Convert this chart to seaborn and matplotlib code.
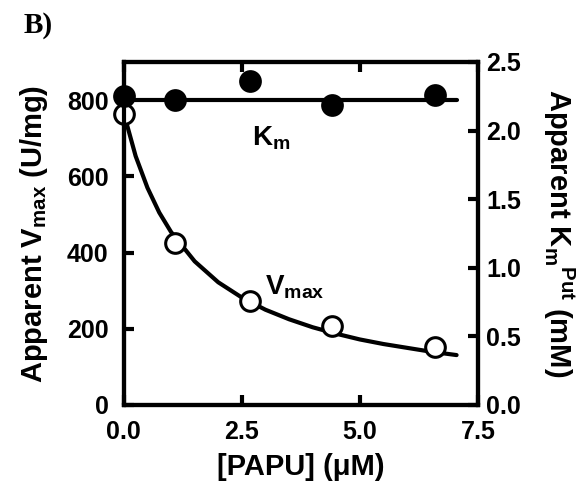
import numpy as np
import pandas as pd
import matplotlib
matplotlib.use("Agg")
import matplotlib.pyplot as plt
import seaborn as sns

papu = [0.0, 1.08, 2.67, 4.4, 6.6]
vmax = [763, 425, 273, 207, 152]
km = [2.25, 2.22, 2.36, 2.19, 2.26]

# fitted curves
fit_x = [0.0, 0.25, 0.5, 0.75, 1.0, 1.5, 2.0, 2.5, 3.0, 3.5, 4.0, 4.5, 5.0, 5.5, 6.0, 6.5, 7.05]
fit_v = [765, 653, 570, 505, 454, 377, 322, 282, 250, 225, 204, 187, 172, 160, 150, 140, 131]
km_line_x = [0.0, 7.05]
km_line_y = [2.22, 2.22]

sns.set_style("ticks")
plt.rcParams['font.family'] = ['Liberation Sans', 'DejaVu Sans']
plt.rcParams['font.weight'] = 'bold'
plt.rcParams['mathtext.fontset'] = 'custom'
plt.rcParams['mathtext.rm'] = 'Liberation Sans:bold'
plt.rcParams['mathtext.bf'] = 'Liberation Sans:bold'
plt.rcParams['mathtext.it'] = 'Liberation Sans:bold'
for k in ['text.color', 'axes.edgecolor', 'axes.labelcolor', 'xtick.color', 'ytick.color']:
    plt.rcParams[k] = 'black'

fig = plt.figure(figsize=(5.87, 5.0), dpi=100)
ax = fig.add_axes([0.211, 0.19, 0.603, 0.686])
ax2 = ax.twinx()

vdf = pd.DataFrame({'x': papu, 'y': vmax})
fdf = pd.DataFrame({'x': fit_x, 'y': fit_v})
kdf = pd.DataFrame({'x': papu, 'y': km})
kl = pd.DataFrame({'x': km_line_x, 'y': km_line_y})

sns.lineplot(data=fdf, x='x', y='y', ax=ax, color='black', lw=3, zorder=2)
sns.scatterplot(data=vdf, x='x', y='y', ax=ax, s=200, facecolor='white',
                edgecolor='black', linewidth=2.2, zorder=3, clip_on=False)
sns.lineplot(data=kl, x='x', y='y', ax=ax2, color='black', lw=3, zorder=2)
sns.scatterplot(data=kdf, x='x', y='y', ax=ax2, s=230, color='black',
                edgecolor='black', zorder=3, clip_on=False)

ax.set_xlim(0, 7.5)
ax.set_ylim(0, 900)
ax2.set_ylim(0, 2.5)
ax.set_xticks([0, 2.5, 5.0, 7.5])
ax.set_xticklabels(['0.0', '2.5', '5.0', '7.5'])
ax.set_yticks([0, 200, 400, 600, 800])
ax2.set_yticks([0, 0.5, 1.0, 1.5, 2.0, 2.5])
ax2.set_yticklabels(['0.0', '0.5', '1.0', '1.5', '2.0', '2.5'])

for a in (ax, ax2):
    for s in a.spines.values():
        s.set_visible(True)
        s.set_linewidth(3)
    a.tick_params(direction='in', length=7, width=3, labelsize=18, pad=6)
ax.tick_params(top=True, right=False)
ax.tick_params(axis='x', pad=11)
ax.tick_params(axis='y', pad=11)
ax2.tick_params(left=False)

ax.set_xlabel('[PAPU] (μM)', fontsize=21, fontweight='bold', labelpad=6)
ax.set_ylabel(r'Apparent V$_{\mathbf{max}}$ (U/mg)', fontsize=21, fontweight='bold', labelpad=12)
ax2.set_ylabel(r'Apparent K$_{\mathbf{m}}{}^{\mathbf{Put}}$ (mM)', fontsize=21,
               fontweight='bold', rotation=270, labelpad=40)

ax.text(2.72, 680, r'K$_{\mathbf{m}}$', fontsize=20, fontweight='bold')
ax.text(3.0, 290, r'V$_{\mathbf{max}}$', fontsize=20, fontweight='bold')
fig.text(0.04, 0.935, 'B)', fontsize=21, fontweight='bold', family='Liberation Serif')

fig.savefig('out.png', dpi=100)
